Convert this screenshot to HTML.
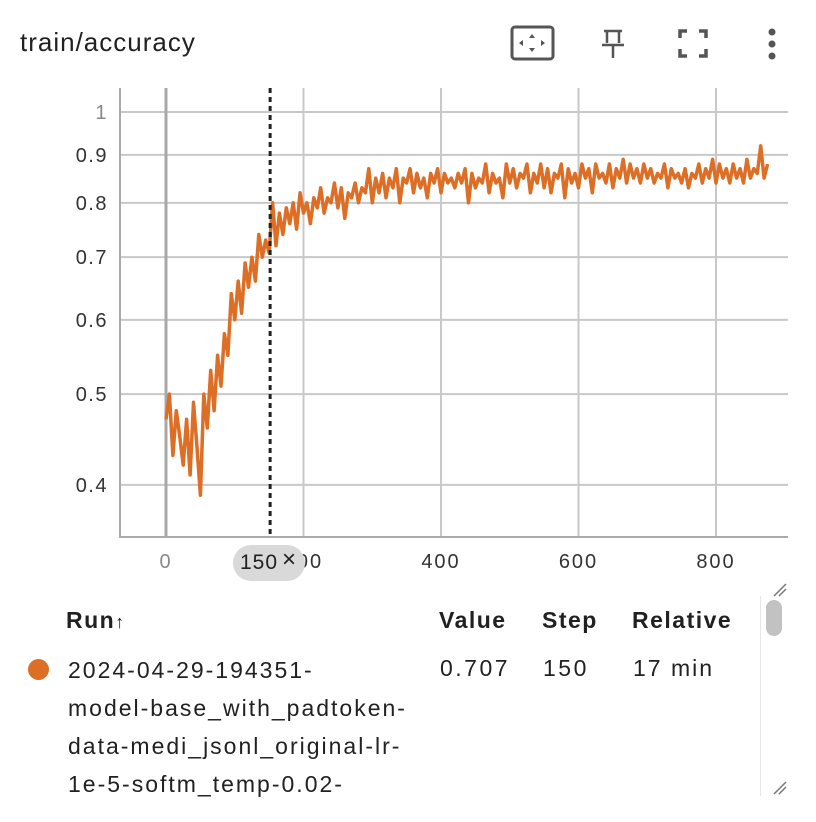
<!DOCTYPE html>
<html><head><meta charset="utf-8"><style>
body{margin:0;width:816px;height:822px;background:#fff;font-family:"Liberation Sans","Noto Sans CJK SC",sans-serif;overflow:hidden;position:relative;color:#212121}
.abs{position:absolute}
.t{font-size:23px;white-space:nowrap;letter-spacing:2px}
</style></head><body>
<div class="abs" style="left:20px;top:27px;font-size:26px;letter-spacing:1px">train/accuracy</div>
<svg class="abs" style="left:0;top:0" width="816" height="600">
 <g fill="#555" stroke="#555">
  <rect x="512" y="27" width="41" height="32" rx="3" fill="none" stroke-width="3"/>
  <path d="M532 34 l-3 4 h6z M532 52 l-3 -4 h6z M519 43 l4 -3 v6z M545 43 l-4 -3 v6z" stroke="none"/>
  <path d="M604 31 h18 M607 31 v12 M619 31 v12 M602 45 h22 M613 45 v13" fill="none" stroke-width="2.5"/>
  <path d="M680 38 v-7 h7 M699 31 h7 v7 M706 49 v7 h-7 M687 56 h-7 v-7" fill="none" stroke-width="3.5"/>
  <g stroke="none"><circle cx="772" cy="32" r="3.5"/><circle cx="772" cy="44" r="3.5"/><circle cx="772" cy="56" r="3.5"/></g>
 </g>
 <g id="grid"></g>
 <g id="axes"></g>
 <path id="line" fill="none" stroke="#dc6e26" stroke-width="3.5" stroke-linejoin="round"/>
 <g id="cursor"></g>
</svg>
<div class="abs" style="left:233px;top:545px;width:72px;height:36px;border-radius:18px;background:#d9d9d9;"></div>
<div class="abs" style="left:240px;top:551px;font-size:21px;letter-spacing:1px">150</div>
<div class="abs" style="left:282px;top:546px;font-size:24px">×</div>

<div class="abs t" style="left:66px;top:607px;font-weight:bold;letter-spacing:1.5px">Run<span style="font-weight:normal;font-size:18px">↑</span></div>
<div class="abs t" style="left:439px;top:607px;font-weight:bold;letter-spacing:1.5px">Value</div>
<div class="abs t" style="left:542px;top:607px;font-weight:bold;letter-spacing:1.5px">Step</div>
<div class="abs t" style="left:632px;top:607px;font-weight:bold;letter-spacing:1.5px">Relative</div>
<div class="abs" style="left:28px;top:659px;width:21px;height:21px;border-radius:50%;background:#dc6e26"></div>
<div class="abs t" style="left:68px;top:651px;line-height:38px">2024-04-29-194351-<br>model-base_with_padtoken-<br>data-medi_jsonl_original-lr-<br>1e-5-softm_temp-0.02-</div>
<div class="abs t" style="left:440px;top:655px;letter-spacing:2.5px">0.707</div>
<div class="abs t" style="left:543px;top:655px;letter-spacing:2.5px">150</div>
<div class="abs t" style="left:633px;top:655px">17 min</div>
<div class="abs" style="left:760px;top:596px;width:28px;height:200px;border-left:1px solid #e6e6e6;"></div>
<div class="abs" style="left:766px;top:600px;width:16px;height:36px;border-radius:8px;background:#c2c2c2"></div>
<svg class="abs" style="left:770px;top:580px" width="20" height="20"><path d="M4 16 L16 4 M9 16 L16 9" stroke="#777" stroke-width="1.5"/></svg>
<svg class="abs" style="left:770px;top:778px" width="20" height="20"><path d="M4 16 L16 4 M9 16 L16 9" stroke="#777" stroke-width="1.5"/></svg>

<script>
const yTicks=[0.4,0.5,0.6,0.7,0.8,0.9,1];
const yTickLabels=["0.4","0.5","0.6","0.7","0.8","0.9","1"];
const xTicks=[0,200,400,600,800];
const xTickLabels=["0","200","400","600","800"];
const cursorStep=150;
const steps=[];
for(let s=0;s<=875;s+=5)steps.push(s);
const accuracy=[0.47,0.50,0.43,0.48,0.45,0.42,0.47,0.41,0.49,0.44,0.39,0.50,0.46,0.53,0.48,0.55,0.51,0.58,0.55,0.64,0.60,0.66,0.61,0.69,0.65,0.70,0.66,0.74,0.70,0.73,0.707,0.80,0.72,0.78,0.74,0.79,0.76,0.80,0.75,0.82,0.78,0.80,0.76,0.81,0.79,0.83,0.78,0.81,0.80,0.84,0.79,0.83,0.77,0.82,0.81,0.84,0.80,0.83,0.82,0.87,0.80,0.85,0.82,0.86,0.81,0.85,0.83,0.87,0.80,0.85,0.84,0.87,0.82,0.86,0.83,0.85,0.81,0.86,0.84,0.87,0.82,0.86,0.84,0.85,0.83,0.86,0.84,0.87,0.80,0.86,0.83,0.85,0.84,0.88,0.82,0.86,0.84,0.85,0.81,0.88,0.84,0.87,0.83,0.86,0.85,0.88,0.82,0.86,0.84,0.88,0.83,0.87,0.82,0.86,0.85,0.88,0.81,0.87,0.84,0.86,0.83,0.88,0.85,0.87,0.82,0.88,0.85,0.86,0.84,0.88,0.83,0.87,0.85,0.89,0.84,0.88,0.85,0.87,0.84,0.88,0.85,0.87,0.84,0.86,0.85,0.88,0.83,0.87,0.85,0.86,0.84,0.87,0.83,0.86,0.85,0.88,0.84,0.87,0.85,0.89,0.84,0.88,0.85,0.87,0.84,0.88,0.85,0.87,0.84,0.89,0.85,0.87,0.86,0.92,0.85,0.88];
const NS='http://www.w3.org/2000/svg';
const X=s=>166+s*0.6875;
const Y=v=>112-407*Math.log(v);
const L=120,R=788,T=88,B=537;
function mk(tag,attrs,parent){const e=document.createElementNS(NS,tag);for(const k in attrs)e.setAttribute(k,attrs[k]);parent.appendChild(e);return e;}
const grid=document.getElementById('grid'),axes=document.getElementById('axes');
yTicks.forEach((v,i)=>{
 const g=mk('line',{x1:L,x2:R,y1:Y(v),y2:Y(v),stroke:'#c8c8c8','stroke-width':2},grid);
 
 
 const t=mk('text',{x:108,y:Y(v)+7,'text-anchor':'end','font-size':20,'letter-spacing':1.5,fill:i==6?'#888':'#333'},axes);
 t.textContent=yTickLabels[i];
 
 
});
xTicks.forEach((s,i)=>{
 const g=mk('line',{x1:X(s),x2:X(s),y1:T,y2:B,stroke:s==0?'#a8a8a8':'#c8c8c8','stroke-width':s==0?3:2},grid);
 
 
 const t=mk('text',{x:X(s),y:568,'text-anchor':'middle','font-size':20,'letter-spacing':2,fill:s==0?'#888':'#333'},axes);
 t.textContent=xTickLabels[i];
 
 
});
const fr=mk('path',{d:`M${L} ${T} V${B} H${R}`,fill:'none',stroke:'#aaa','stroke-width':2},axes);


let d='';accuracy.forEach((v,i)=>{d+=(i?'L':'M')+X(steps[i]).toFixed(1)+' '+Y(v).toFixed(1)});
document.getElementById('line').setAttribute('d',d);
const c=mk('line',{x1:X(cursorStep)+1,x2:X(cursorStep)+1,y1:T,y2:B,stroke:'#222','stroke-width':3,'stroke-dasharray':'5 4'},document.getElementById('cursor'));


</script>
</body></html>
